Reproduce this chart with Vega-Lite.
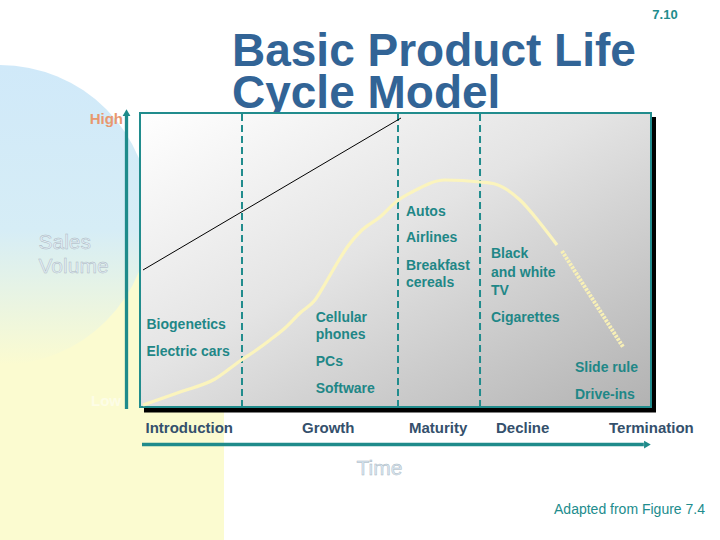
{
  "$schema": "https://vega.github.io/schema/vega-lite/v6.json",
  "width": 720,
  "height": 540,
  "autosize": {"type": "none"},
  "padding": 0,
  "background": "#ffffff",
  "config": {"view": {"stroke": null}},
  "layer": [
    {
      "data": {"values": [{"t": -27.397, "t2": 16.44, "s": -45.238, "s2": 53.4}]},
      "mark": {"type": "rect", "fill": "#fbfbd0", "strokeWidth": 0},
      "encoding": {
        "x": {"field": "t", "type": "quantitative", "scale": {"domain": [-27.397, 113.503], "nice": false, "zero": false}, "axis": null},
        "x2": {"field": "t2"},
        "y": {"field": "s", "type": "quantitative", "scale": {"domain": [-45.238, 138.435], "nice": false, "zero": false}, "axis": null},
        "y2": {"field": "s2"}
      }
    },
    {
      "data": {"values": [{"t": -27.397, "s": 65.3}]},
      "mark": {"type": "point", "shape": "circle", "filled": true, "opacity": 1, "size": 90000, "strokeWidth": 0,
        "fill": {"gradient": "linear", "x1": 0, "y1": 0, "x2": 0, "y2": 1, "stops": [
          {"offset": 0, "color": "#d0e9f9"}, {"offset": 0.55, "color": "#d6edf6"}, {"offset": 1, "color": "#fbfbd0"}]}},
      "encoding": {
        "x": {"field": "t", "type": "quantitative", "scale": {"domain": [-27.397, 113.503], "nice": false, "zero": false}, "axis": null},
        "y": {"field": "s", "type": "quantitative", "scale": {"domain": [-45.238, 138.435], "nice": false, "zero": false}, "axis": null}
      }
    },
    {
      "data": {"values": [
        {"label": "Basic Product Life", "t": 18.0, "s": 115.99},
        {"label": "Cycle Model", "t": 18.0, "s": 101.7}
      ]},
      "mark": {"type": "text", "align": "left", "baseline": "alphabetic", "font": "Liberation Sans", "fontWeight": "bold", "fontSize": 46, "color": "#326496"},
      "encoding": {
        "x": {"field": "t", "type": "quantitative", "scale": {"domain": [-27.397, 113.503], "nice": false, "zero": false}, "axis": null},
        "y": {"field": "s", "type": "quantitative", "scale": {"domain": [-45.238, 138.435], "nice": false, "zero": false}, "axis": null},
        "text": {"field": "label"}
      }
    },
    {
      "data": {"values": [{"label": "7.10", "t": 102.74, "s": 133.33}]},
      "mark": {"type": "text", "align": "center", "baseline": "middle", "font": "Liberation Sans", "fontWeight": "bold", "fontSize": 13, "color": "#218c8d"},
      "encoding": {
        "x": {"field": "t", "type": "quantitative", "scale": {"domain": [-27.397, 113.503], "nice": false, "zero": false}, "axis": null},
        "y": {"field": "s", "type": "quantitative", "scale": {"domain": [-45.238, 138.435], "nice": false, "zero": false}, "axis": null},
        "text": {"field": "label"}
      }
    },
    {
      "data": {"values": [{"label": "High", "t": -3.33, "s": 97.79}]},
      "mark": {"type": "text", "align": "right", "baseline": "middle", "font": "Liberation Sans", "fontWeight": "bold", "fontSize": 15, "color": "#e8986f"},
      "encoding": {
        "x": {"field": "t", "type": "quantitative", "scale": {"domain": [-27.397, 113.503], "nice": false, "zero": false}, "axis": null},
        "y": {"field": "s", "type": "quantitative", "scale": {"domain": [-45.238, 138.435], "nice": false, "zero": false}, "axis": null},
        "text": {"field": "label"}
      }
    },
    {
      "data": {"values": [{"label": "Low", "t": -3.72, "s": 2.04}]},
      "mark": {"type": "text", "align": "right", "baseline": "middle", "font": "Liberation Sans", "fontWeight": "bold", "fontSize": 15, "color": "#fdfde6"},
      "encoding": {
        "x": {"field": "t", "type": "quantitative", "scale": {"domain": [-27.397, 113.503], "nice": false, "zero": false}, "axis": null},
        "y": {"field": "s", "type": "quantitative", "scale": {"domain": [-45.238, 138.435], "nice": false, "zero": false}, "axis": null},
        "text": {"field": "label"}
      }
    },
    {
      "data": {"values": [
        {"label": "Sales", "t": -19.86, "s": 55.95},
        {"label": "Volume", "t": -19.86, "s": 47.45}
      ]},
      "mark": {"type": "text", "align": "left", "baseline": "middle", "font": "Liberation Sans", "fontSize": 21, "fill": "#e2edf5", "stroke": "#aab6c0", "strokeWidth": 0.45},
      "encoding": {
        "x": {"field": "t", "type": "quantitative", "scale": {"domain": [-27.397, 113.503], "nice": false, "zero": false}, "axis": null},
        "y": {"field": "s", "type": "quantitative", "scale": {"domain": [-45.238, 138.435], "nice": false, "zero": false}, "axis": null},
        "text": {"field": "label"}
      }
    },
    {
      "data": {"values": [{"label": "Time", "t": 46.87, "s": -21.09}]},
      "mark": {"type": "text", "align": "center", "baseline": "middle", "font": "Liberation Sans", "fontSize": 21, "fill": "#d8e8f4", "stroke": "#aab6c0", "strokeWidth": 0.45},
      "encoding": {
        "x": {"field": "t", "type": "quantitative", "scale": {"domain": [-27.397, 113.503], "nice": false, "zero": false}, "axis": null},
        "y": {"field": "s", "type": "quantitative", "scale": {"domain": [-45.238, 138.435], "nice": false, "zero": false}, "axis": null},
        "text": {"field": "label"}
      }
    },
    {
      "data": {"values": [{"label": "Adapted from Figure 7.4", "t": 81.02, "s": -35.03}]},
      "mark": {"type": "text", "align": "left", "baseline": "middle", "font": "Liberation Sans", "fontSize": 14, "color": "#218c8d"},
      "encoding": {
        "x": {"field": "t", "type": "quantitative", "scale": {"domain": [-27.397, 113.503], "nice": false, "zero": false}, "axis": null},
        "y": {"field": "s", "type": "quantitative", "scale": {"domain": [-45.238, 138.435], "nice": false, "zero": false}, "axis": null},
        "text": {"field": "label"}
      }
    },
    {
      "data": {"values": [
        {"t": -2.64, "t2": -2.64, "s": -0.68, "s2": 99.5},
        {"t": 0.39, "t2": 98.6, "s": -12.76, "s2": -12.76}
      ]},
      "mark": {"type": "rule", "color": "#1f8b8b", "strokeWidth": 3.3},
      "encoding": {
        "x": {"field": "t", "type": "quantitative", "scale": {"domain": [-27.397, 113.503], "nice": false, "zero": false}, "axis": null},
        "x2": {"field": "t2"},
        "y": {"field": "s", "type": "quantitative", "scale": {"domain": [-45.238, 138.435], "nice": false, "zero": false}, "axis": null},
        "y2": {"field": "s2"}
      }
    },
    {
      "data": {"values": [
        {"t": -2.64, "s": 100.1, "shape": "triangle-up"},
        {"t": 99.3, "s": -12.76, "shape": "triangle-right"}
      ]},
      "mark": {"type": "point", "filled": true, "opacity": 1, "size": 60, "color": "#1f8b8b"},
      "encoding": {
        "x": {"field": "t", "type": "quantitative", "scale": {"domain": [-27.397, 113.503], "nice": false, "zero": false}, "axis": null},
        "y": {"field": "s", "type": "quantitative", "scale": {"domain": [-45.238, 138.435], "nice": false, "zero": false}, "axis": null},
        "shape": {"field": "shape", "type": "nominal", "scale": null, "legend": null}
      }
    },
    {
      "data": {"values": [{"t": 0.78, "t2": 100.98, "s": -1.9, "s2": 98.64}]},
      "mark": {"type": "rect", "fill": "#000000", "strokeWidth": 0},
      "encoding": {
        "x": {"field": "t", "type": "quantitative", "scale": {"domain": [-27.397, 113.503], "nice": false, "zero": false}, "axis": null},
        "x2": {"field": "t2"},
        "y": {"field": "s", "type": "quantitative", "scale": {"domain": [-45.238, 138.435], "nice": false, "zero": false}, "axis": null},
        "y2": {"field": "s2"}
      }
    },
    {
      "data": {"values": [{"t": 0, "t2": 100, "s": 0, "s2": 100}]},
      "mark": {"type": "rect", "stroke": "#218c8d", "strokeWidth": 2,
        "fill": {"gradient": "linear", "x1": 0, "y1": 0, "x2": 1, "y2": 1, "stops": [
          {"offset": 0, "color": "#ffffff"}, {"offset": 0.45, "color": "#e4e4e4"}, {"offset": 1, "color": "#b2b2b2"}]}},
      "encoding": {
        "x": {"field": "t", "type": "quantitative", "scale": {"domain": [-27.397, 113.503], "nice": false, "zero": false}, "axis": null},
        "x2": {"field": "t2"},
        "y": {"field": "s", "type": "quantitative", "scale": {"domain": [-45.238, 138.435], "nice": false, "zero": false}, "axis": null},
        "y2": {"field": "s2"}
      }
    },
    {
      "data": {"values": [
        {"t": 19.96, "s": 0, "s2": 100},
        {"t": 50.49, "s": 0, "s2": 100},
        {"t": 66.54, "s": 0, "s2": 100}
      ]},
      "mark": {"type": "rule", "color": "#218c8d", "strokeWidth": 2, "strokeDash": [7, 4]},
      "encoding": {
        "x": {"field": "t", "type": "quantitative", "scale": {"domain": [-27.397, 113.503], "nice": false, "zero": false}, "axis": null},
        "y": {"field": "s", "type": "quantitative", "scale": {"domain": [-45.238, 138.435], "nice": false, "zero": false}, "axis": null},
        "y2": {"field": "s2"}
      }
    },
    {
      "data": {"values": [{"t": 0.59, "t2": 51.08, "s": 46.6, "s2": 98.3}]},
      "mark": {"type": "rule", "color": "#000000", "strokeWidth": 1},
      "encoding": {
        "x": {"field": "t", "type": "quantitative", "scale": {"domain": [-27.397, 113.503], "nice": false, "zero": false}, "axis": null},
        "x2": {"field": "t2"},
        "y": {"field": "s", "type": "quantitative", "scale": {"domain": [-45.238, 138.435], "nice": false, "zero": false}, "axis": null},
        "y2": {"field": "s2"}
      }
    },
    {
      "data": {"values": [
        {"t": 0.587, "s": 0.68}, {"t": 7.828, "s": 5.102}, {"t": 14.677, "s": 9.524}, {"t": 19.569, "s": 15.646},
        {"t": 22.505, "s": 19.048}, {"t": 25.44, "s": 22.789}, {"t": 28.376, "s": 26.871}, {"t": 31.311, "s": 31.973},
        {"t": 34.247, "s": 36.395}, {"t": 36.204, "s": 41.837}, {"t": 38.356, "s": 48.299}, {"t": 40.705, "s": 54.762},
        {"t": 43.444, "s": 60.204}, {"t": 46.967, "s": 64.626}, {"t": 50.294, "s": 70.068}, {"t": 53.229, "s": 73.129},
        {"t": 59.687, "s": 77.211}, {"t": 66.536, "s": 76.531}, {"t": 69.472, "s": 75.85}, {"t": 74.364, "s": 70.408},
        {"t": 78.278, "s": 62.585}, {"t": 81.605, "s": 55.102}
      ]},
      "mark": {"type": "line", "color": "#fbf4bd", "strokeWidth": 3.2, "interpolate": "monotone"},
      "encoding": {
        "x": {"field": "t", "type": "quantitative", "scale": {"domain": [-27.397, 113.503], "nice": false, "zero": false}, "axis": null},
        "y": {"field": "s", "type": "quantitative", "scale": {"domain": [-45.238, 138.435], "nice": false, "zero": false}, "axis": null}
      }
    },
    {
      "data": {"values": [{"t": 82.583, "s": 53.061}, {"t": 94.521, "s": 20.408}]},
      "mark": {"type": "line", "color": "#f8f0b6", "strokeWidth": 4, "strokeDash": [2.5, 1.2]},
      "encoding": {
        "x": {"field": "t", "type": "quantitative", "scale": {"domain": [-27.397, 113.503], "nice": false, "zero": false}, "axis": null},
        "y": {"field": "s", "type": "quantitative", "scale": {"domain": [-45.238, 138.435], "nice": false, "zero": false}, "axis": null}
      }
    },
    {
      "data": {"values": [
        {"label": "Biogenetics", "t": 1.272, "s": 27.891},
        {"label": "Electric cars", "t": 1.272, "s": 18.81},
        {"label": "Cellular", "t": 34.384, "s": 30.272},
        {"label": "phones", "t": 34.384, "s": 24.49},
        {"label": "PCs", "t": 34.384, "s": 15.306},
        {"label": "Software", "t": 34.384, "s": 6.122},
        {"label": "Autos", "t": 52.055, "s": 66.429},
        {"label": "Airlines", "t": 52.055, "s": 57.483},
        {"label": "Breakfast", "t": 52.055, "s": 48.061},
        {"label": "cereals", "t": 52.055, "s": 42.177},
        {"label": "Black", "t": 68.689, "s": 52.041},
        {"label": "and white", "t": 68.689, "s": 45.68},
        {"label": "TV", "t": 68.689, "s": 39.558},
        {"label": "Cigarettes", "t": 68.689, "s": 30.272},
        {"label": "Slide rule", "t": 85.127, "s": 13.367},
        {"label": "Drive-ins", "t": 85.127, "s": 4.082}
      ]},
      "mark": {"type": "text", "align": "left", "baseline": "middle", "font": "Liberation Sans", "fontWeight": "bold", "fontSize": 14, "color": "#1f8787"},
      "encoding": {
        "x": {"field": "t", "type": "quantitative", "scale": {"domain": [-27.397, 113.503], "nice": false, "zero": false}, "axis": null},
        "y": {"field": "s", "type": "quantitative", "scale": {"domain": [-45.238, 138.435], "nice": false, "zero": false}, "axis": null},
        "text": {"field": "label"}
      }
    },
    {
      "data": {"values": [
        {"label": "Introduction", "t": 1.076, "s": -7.143},
        {"label": "Growth", "t": 31.703, "s": -7.143},
        {"label": "Maturity", "t": 52.642, "s": -7.143},
        {"label": "Decline", "t": 69.667, "s": -7.143},
        {"label": "Termination", "t": 91.781, "s": -7.143}
      ]},
      "mark": {"type": "text", "align": "left", "baseline": "middle", "font": "Liberation Sans", "fontWeight": "bold", "fontSize": 15, "color": "#34506c"},
      "encoding": {
        "x": {"field": "t", "type": "quantitative", "scale": {"domain": [-27.397, 113.503], "nice": false, "zero": false}, "axis": null},
        "y": {"field": "s", "type": "quantitative", "scale": {"domain": [-45.238, 138.435], "nice": false, "zero": false}, "axis": null},
        "text": {"field": "label"}
      }
    }
  ]
}
